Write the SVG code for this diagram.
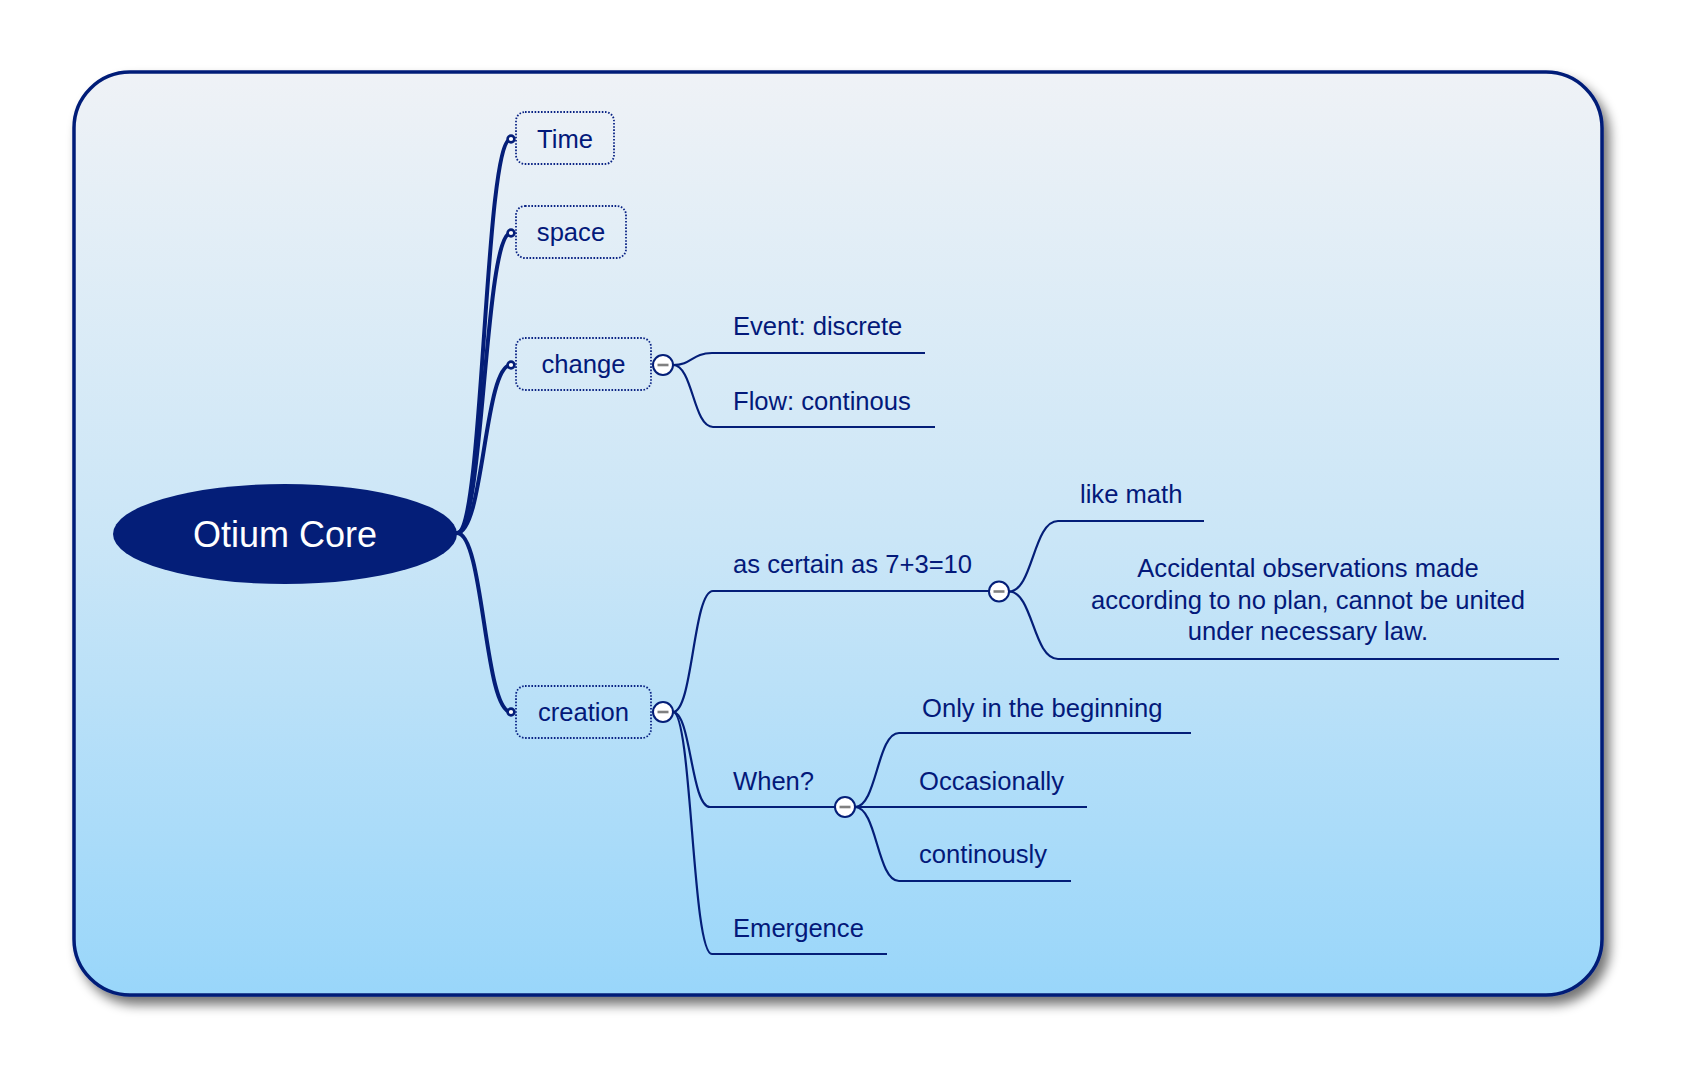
<svg xmlns="http://www.w3.org/2000/svg" width="1696" height="1088" viewBox="0 0 1696 1088">
<defs>
<linearGradient id="bg" x1="0" y1="0" x2="0" y2="1">
<stop offset="0" stop-color="#EFF2F6"/>
<stop offset="0.5" stop-color="#CBE6F7"/>
<stop offset="1" stop-color="#99D6FA"/>
</linearGradient>
<filter id="shadow" x="-5%" y="-5%" width="115%" height="115%">
<feGaussianBlur in="SourceAlpha" stdDeviation="6"/>
<feOffset dx="6" dy="8" result="b"/>
<feComponentTransfer><feFuncA type="linear" slope="0.55"/></feComponentTransfer>
<feMerge><feMergeNode/><feMergeNode in="SourceGraphic"/></feMerge>
</filter>
</defs>
<style>
text{font-family:"Liberation Sans",Arial,sans-serif;font-size:25.6px;fill:#03197A}
.mid{text-anchor:middle}
.root{font-size:36px;fill:#FFFFFF}
.box{fill:none;stroke:#0A2384;stroke-width:1.8;stroke-dasharray:1.6 1.6}
.thick{fill:none;stroke:#041E78;stroke-width:4;stroke-linecap:round}
.thin{fill:none;stroke:#041E78;stroke-width:2.2}
.dot{fill:#FFFFFF;stroke:#041E78;stroke-width:2.6}
.col{fill:#FFFFFF;stroke:#041E78;stroke-width:2}
.minus{stroke:#808080;stroke-width:2.6}
</style>
<rect id="panel" x="74" y="72" width="1528" height="923" rx="56" fill="url(#bg)" stroke="#041E78" stroke-width="3.5" filter="url(#shadow)"/>
<g id="connectors">
<path class="thick" d="M457,533 C484,533 484,139 511,139"/>
<path class="thick" d="M457,533 C484,533 484,233 511,233"/>
<path class="thick" d="M457,533 C484,533 484,365 511,365"/>
<path class="thick" d="M457,533 C484,533 484,712 511,712"/>
<path class="thin" d="M673,365 C692,365 692,353 712,353 H925"/>
<path class="thin" d="M673,365 C693,365 693,427 713,427 H935"/>
<path class="thin" d="M673,712 C693,712 693,591 713,591 H990"/>
<path class="thin" d="M673,712 C691,712 691,807 710,807 H835"/>
<path class="thin" d="M673,712 C692,712 692,954 712,954 H887"/>
<path class="thin" d="M1009,591.5 C1033,591.5 1033,521 1058,521 H1204"/>
<path class="thin" d="M1009,591.5 C1033,591.5 1033,659 1058,659 H1559"/>
<path class="thin" d="M855,807 C877,807 877,733 899,733 H1191"/>
<path class="thin" d="M855,807 H1087"/>
<path class="thin" d="M855,807 C877,807 877,881 899,881 H1071"/>
<circle class="dot" cx="511" cy="139" r="3.4"/>
<circle class="dot" cx="511" cy="233" r="3.4"/>
<circle class="dot" cx="511" cy="365" r="3.4"/>
<circle class="dot" cx="511" cy="712" r="3.4"/>
</g>
<g id="root">
<ellipse cx="285" cy="534" rx="172" ry="50" fill="#041E78"/>
<text class="root mid" x="285" y="547">Otium Core</text>
</g>
<g id="time">
<rect class="box" x="516" y="112" width="98" height="52" rx="9"/>
<text class="mid" x="565" y="148">Time</text>
</g>
<g id="space">
<rect class="box" x="516" y="206" width="110" height="52" rx="9"/>
<text class="mid" x="571" y="241">space</text>
</g>
<g id="change">
<rect class="box" x="516" y="338" width="135" height="52" rx="9"/>
<text class="mid" x="583.5" y="373">change</text>
<circle class="col" cx="663" cy="365" r="10"/>
<line class="minus" x1="657.5" y1="365" x2="668.5" y2="365"/>
</g>
<g id="event">
<text x="733" y="335">Event: discrete</text>
</g>
<g id="flow">
<text x="733" y="410">Flow: continous</text>
</g>
<g id="creation">
<rect class="box" x="516" y="686" width="135" height="52" rx="9"/>
<text class="mid" x="583.5" y="721">creation</text>
<circle class="col" cx="663" cy="712" r="10"/>
<line class="minus" x1="657.5" y1="712" x2="668.5" y2="712"/>
</g>
<g id="certain">
<text x="733" y="573">as certain as 7+3=10</text>
<circle class="col" cx="999" cy="591.5" r="10"/>
<line class="minus" x1="993.5" y1="591.5" x2="1004.5" y2="591.5"/>
</g>
<g id="likemath">
<text x="1080" y="503">like math</text>
</g>
<g id="accidental">
<text class="mid" x="1308" y="577">Accidental observations made</text>
<text class="mid" x="1308" y="608.5">according to no plan, cannot be united</text>
<text class="mid" x="1308" y="640">under necessary law.</text>
</g>
<g id="when">
<text x="733" y="790">When?</text>
<circle class="col" cx="845" cy="807" r="10"/>
<line class="minus" x1="839.5" y1="807" x2="850.5" y2="807"/>
</g>
<g id="only">
<text x="922" y="717">Only in the beginning</text>
</g>
<g id="occasionally">
<text x="919" y="790">Occasionally</text>
</g>
<g id="continously">
<text x="919" y="863">continously</text>
</g>
<g id="emergence">
<text x="733" y="937">Emergence</text>
</g>
</svg>
